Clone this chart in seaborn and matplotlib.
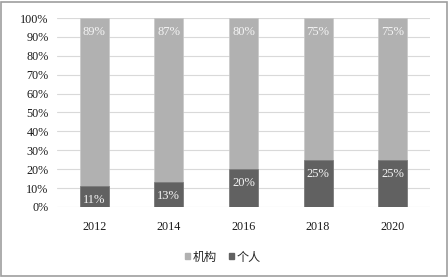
import matplotlib
matplotlib.use("Agg")
import matplotlib.pyplot as plt
import seaborn as sns
import pandas as pd
from matplotlib.patches import Rectangle, Patch
from matplotlib.ticker import FuncFormatter, MultipleLocator

years = ["2012", "2014", "2016", "2018", "2020"]
institution = [89, 87, 80, 75, 75]
individual = [11, 13, 20, 25, 25]
series_names = ["机构", "个人"]

c_inst = "#b1b1b1"
c_ind = "#616161"

sns.set_theme(style="white")
plt.rcParams["font.family"] = ["Liberation Serif", "Noto Sans CJK SC", "DejaVu Sans"]

df = pd.DataFrame({"year": years, "inst": institution, "ind": individual})
df["total"] = df["inst"] + df["ind"]

fig = plt.figure(figsize=(4.48, 2.77), dpi=100)
ax = fig.add_axes([0.127, 0.253, 0.833, 0.682])

sns.barplot(data=df, x="year", y="total", color=c_inst, width=0.39, ax=ax,
            saturation=1, zorder=2, edgecolor="#c8c8c8", linewidth=0.5)
sns.barplot(data=df, x="year", y="ind", color=c_ind, width=0.39, ax=ax,
            saturation=1, zorder=3, edgecolor="#7a7a7a", linewidth=0.5)

cont_inst = ax.containers[0]
cont_ind = ax.containers[1]
ax.bar_label(cont_inst, labels=[f"{v}%" for v in institution], label_type="edge",
             padding=-14.5, color="#f4f4f4", fontsize=9)
ax.bar_label(cont_ind, labels=[f"{v}%" for v in individual], label_type="edge",
             padding=-14.5, color="#f4f4f4", fontsize=9)

ax.set_ylim(0, 100)
ax.yaxis.set_major_locator(MultipleLocator(10))
ax.yaxis.set_major_formatter(FuncFormatter(lambda v, p: f"{int(v)}%"))
ax.grid(axis="y", color="#d9d9d9", linewidth=0.8, zorder=0)
ax.set_axisbelow(True)
for s in ax.spines.values():
    s.set_visible(False)
ax.set_xlabel("")
ax.set_ylabel("")
ax.tick_params(axis="both", length=0, labelsize=8.7, colors="#1a1a1a")
ax.tick_params(axis="x", pad=10)
ax.tick_params(axis="y", pad=6)
ax.set_xlim(-0.5, 4.5)

handles = [Patch(color=c_inst), Patch(color=c_ind)]
fig.legend(handles, series_names, loc="center", bbox_to_anchor=(0.497, 0.072),
           ncol=2, frameon=False, handlelength=0.45, handleheight=0.45,
           handletextpad=0.2, columnspacing=1.0,
           prop={"family": ["Noto Sans CJK SC", "DejaVu Sans"], "size": 8.7})

fig.patches.append(Rectangle((0.003, 0.004), 0.994, 0.99, transform=fig.transFigure,
                             fill=False, edgecolor="#9e9e9e", linewidth=1.2))

fig.savefig("out.png", dpi=100)
